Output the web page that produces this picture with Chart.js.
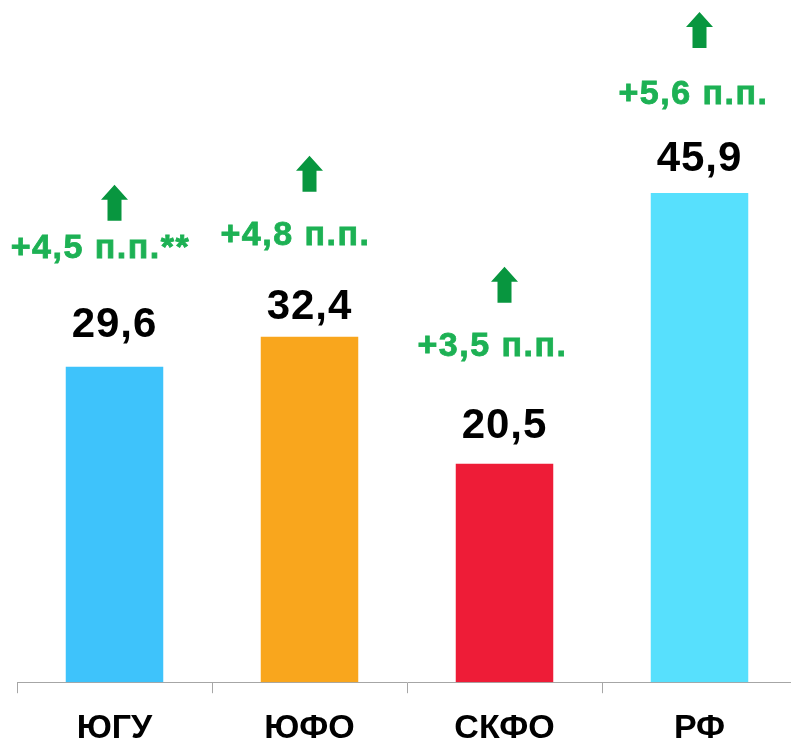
<!DOCTYPE html>
<html>
<head>
<meta charset="utf-8">
<script src="https://cdn.jsdelivr.net/npm/chart.js@4/dist/chart.umd.min.js"></script>
<style>
  html, body { margin: 0; padding: 0; background: #fff; overflow: hidden; }
  #wrap { width: 800px; height: 764px; }
</style>
</head>
<body>
<div id="wrap"><canvas id="bars"></canvas></div>
<script>
// values
const regions = ['ЮГУ', 'ЮФО', 'СКФО', 'РФ'];
const shares = [29.6, 32.4, 20.5, 45.9];
const changes = ['+4,5 п.п.**', '+4,8 п.п.', '+3,5 п.п.', '+5,6 п.п.'];
const barColors = ['#3ec3fb', '#f9a61d', '#ee1c37', '#57e0fd'];

// how far above each bar top the labels sit (px)
const valueLift = [41, 29, 37, 34];
const changeLift = [118, 101, 117, 98];
const arrowLift = [146, 145, 161, 145];
const changeShift = [-14, -14, -12, -6];

const fmt = v => v.toFixed(1).replace('.', ',');

function drawArrow(ctx, cx, bottom) {
  const w = 27, h = 36, head = 15, shaft = 14;
  ctx.beginPath();
  ctx.moveTo(cx - shaft / 2, bottom);
  ctx.lineTo(cx - shaft / 2, bottom - h + head);
  ctx.lineTo(cx - w / 2, bottom - h + head);
  ctx.lineTo(cx, bottom - h);
  ctx.lineTo(cx + w / 2, bottom - h + head);
  ctx.lineTo(cx + shaft / 2, bottom - h + head);
  ctx.lineTo(cx + shaft / 2, bottom);
  ctx.closePath();
  ctx.fillStyle = '#08963f';
  ctx.fill();
}

const barLabels = {
  id: 'barLabels',
  afterDatasetsDraw(chart) {
    const ctx = chart.ctx;
    const meta = chart.getDatasetMeta(0);
    ctx.save();
    ctx.textAlign = 'center';
    ctx.textBaseline = 'middle';
    meta.data.forEach((bar, i) => {
      ctx.fillStyle = '#000';
      ctx.font = 'bold 42px "Liberation Sans", Arial, sans-serif';
      ctx.letterSpacing = '1px';
      ctx.fillText(fmt(shares[i]), bar.x, bar.y - valueLift[i]);

      // green labels look a touch heavier in the source, so stroke them thinly
      ctx.fillStyle = '#1db154';
      ctx.strokeStyle = '#1db154';
      ctx.lineWidth = 0.8;
      ctx.font = 'bold 34px "Liberation Sans", Arial, sans-serif';
      ctx.letterSpacing = '1.5px';
      const cy = bar.y - changeLift[i];
      ctx.fillText(changes[i], bar.x + changeShift[i], cy);
      ctx.strokeText(changes[i], bar.x + changeShift[i], cy);

      drawArrow(ctx, bar.x, bar.y - arrowLift[i]);
    });
    ctx.restore();
  }
};

const barCtx = document.getElementById('bars');
new Chart(barCtx, {
  type: 'bar',
  data: {
    labels: regions,
    datasets: [{
      data: shares,
      backgroundColor: barColors,
      barPercentage: 1,
      categoryPercentage: 0.5,
    }],
  },
  options: {
    responsive: true,
    maintainAspectRatio: false,
    animation: false,
    layout: { padding: { left: 17, right: 3, top: 0, bottom: 0 } },
    plugins: { legend: { display: false }, tooltip: { enabled: false } },
    scales: {
      y: { display: false, min: 0, max: 64 },
      x: {
        grid: { drawOnChartArea: false, color: '#a6a6a6', tickLength: 11, offset: true },
        border: { color: '#a6a6a6', width: 1 },
        ticks: {
          color: '#000',
          padding: 15,
          font: { family: '"Liberation Sans", Arial, sans-serif', size: 34, weight: 'bold' },
        },
      },
    },
  },
  plugins: [barLabels],
});
</script>
</body>
</html>
